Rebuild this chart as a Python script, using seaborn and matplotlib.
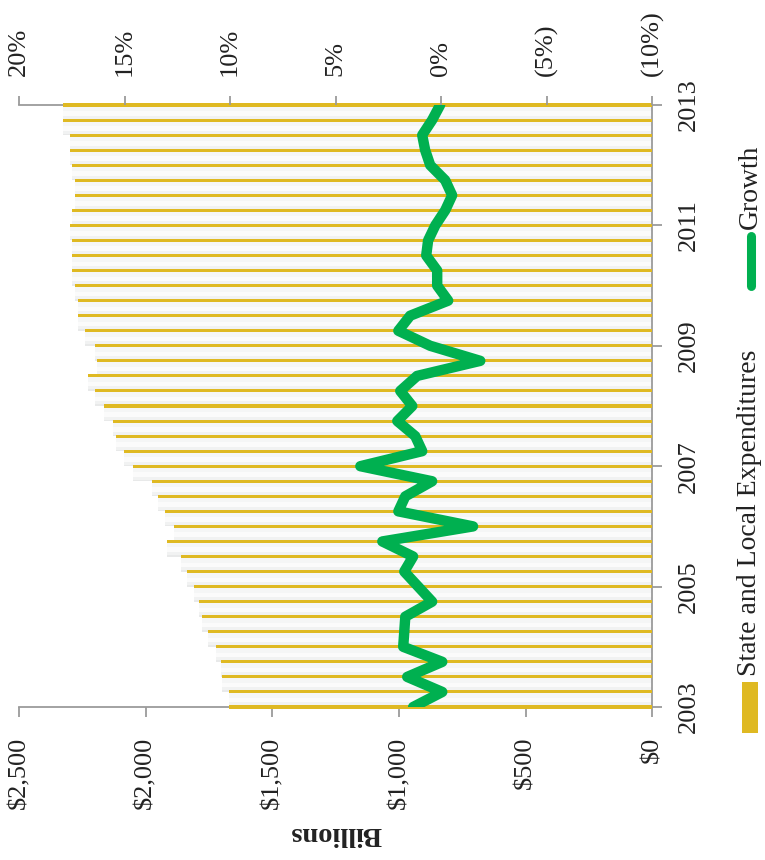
import numpy as np
import seaborn as sns
import matplotlib.pyplot as plt
from matplotlib.patches import Rectangle
from matplotlib.lines import Line2D

# quarterly data, 2003Q1 .. 2013Q1
quarters = [f"{y}Q{q}" for y in range(2003, 2013) for q in range(1, 5)] + ["2013Q1"]

# state and local expenditures, $ billions
spending = [1670, 1672, 1697, 1702, 1723, 1755, 1779, 1791, 1810, 1837,
            1860, 1916, 1889, 1924, 1951, 1976, 2050, 2086, 2117, 2129,
            2165, 2200, 2228, 2192, 2200, 2240, 2267, 2267, 2279, 2291,
            2291, 2291, 2299, 2291, 2279, 2279, 2291, 2299, 2299, 2327,
            2327]

# quarter over quarter growth, %
growth = [1.33, -0.05, 1.61, -0.05, 1.80, 1.75, 1.70, 0.43, 1.09, 1.75,
          1.33, 2.79, -1.51, 2.03, 1.70, 0.43, 3.83, 0.90, 1.23, 2.08,
          1.37, 1.94, 1.14, -1.85, 0.52, 2.03, 1.47, -0.33, 0.19, 0.19,
          0.71, 0.62, 0.28, -0.19, -0.52, -0.19, 0.52, 0.76, 0.90, 0.43,
          0.05]

year_ticks = [0, 8, 16, 24, 32, 40]
year_labels = ["2003", "2005", "2007", "2009", "2011", "2013"]
dollar_ticks = [2500, 2000, 1500, 1000, 500, 0]
dollar_labels = ["$2,500", "$2,000", "$1,500", "$1,000", "$500", "$0"]
pct_ticks = [20, 15, 10, 5, 0, -5, -10]
pct_labels = ["20%", "15%", "10%", "5%", "0%", "(5%)", "(10%)"]

YELLOW = "#dfb922"
GREEN = "#00b050"
GRAY = "#9b9b9b"
TXT = "#222222"

sns.set_style("white")
plt.rcParams["font.family"] = ["Liberation Serif", "DejaVu Serif"]

W, H = 765, 860
fig = plt.figure(figsize=(W / 100, H / 100), dpi=100)
ax = fig.add_axes([19 / W, 1 - 707 / H, (652.3 - 19) / W, (707 - 105) / H])

pos = np.arange(len(quarters))

# soft shaded band under each bar line
shades = [(0.0, 0.1, "#e9eaea"), (0.1, 0.4, "#f5f6f6"), (0.4, 0.7, "#fbfbfb"),
          (0.7, 0.9, "#f1f2f2"), (0.9, 1.0, "#e8e9e9")]
for f0, f1, c in shades:
    ax.barh(pos - f1, spending, height=f1 - f0, align="edge", color=c,
            linewidth=0, zorder=1)

sns.barplot(x=spending, y=pos, orient="h", native_scale=True, width=0.2,
            color=YELLOW, saturation=1, errorbar=None, linewidth=0,
            zorder=3, clip_on=False, ax=ax)

ax.set_xlim(2500, 0)
ax.set_ylim(0, 40)

ax2 = ax.twiny()
sns.lineplot(x=growth, y=pos, orient="y", sort=False, estimator=None,
             color=GREEN, linewidth=7.5, solid_capstyle="round", ax=ax2)
ax2.set_xlim(20, -10)
ax2.set_ylim(0, 40)

# axes styling
ax.set_xticks(dollar_ticks, dollar_labels, rotation=90)
ax.yaxis.tick_right()
ax.set_yticks(year_ticks, year_labels, rotation=90, va="center")
ax.tick_params(axis="x", bottom=True, length=7.2, width=1.3, color=GRAY,
               pad=14, labelsize=19, labelcolor=TXT)
ax.tick_params(axis="y", right=True, left=False, length=7.2, width=1.3,
               color=GRAY, pad=11.5, labelsize=19, labelcolor=TXT)
ax.set_ylabel("")
ax.set_xlabel("Billions", rotation=180, fontweight="bold", fontsize=20.5,
              color=TXT, labelpad=9)
for side in ["top", "bottom", "right"]:
    ax.spines[side].set_color(GRAY)
    ax.spines[side].set_linewidth(1.3)
ax.spines["left"].set_visible(False)

ax2.set_xticks(pct_ticks, pct_labels, rotation=90)
ax2.tick_params(axis="x", top=True, length=6.5, width=1.3, color=GRAY,
                pad=14.5, labelsize=19, labelcolor=TXT)
ax2.set_xlabel("")
ax2.set_ylabel("")
for s in ax2.spines.values():
    s.set_visible(False)

# legend, drawn rotated like the rest of the chart
fig.add_artist(Rectangle((742 / W, 1 - 733 / H), 16 / W, 51 / H,
                         transform=fig.transFigure, color=YELLOW, lw=0))
fig.text(750 / W, 1 - 676 / H, "State and Local Expenditures", rotation=90,
         ha="center", va="bottom", fontsize=20, color=TXT)
fig.add_artist(Line2D([750.5 / W, 750.5 / W], [1 - 286 / H, 1 - 236 / H],
                      transform=fig.transFigure, color=GREEN, lw=6.5,
                      solid_capstyle="round"))
fig.text(750 / W, 1 - 229 / H, "Growth", rotation=90,
         ha="center", va="bottom", fontsize=20, color=TXT)

fig.savefig("out.png", dpi=100)
